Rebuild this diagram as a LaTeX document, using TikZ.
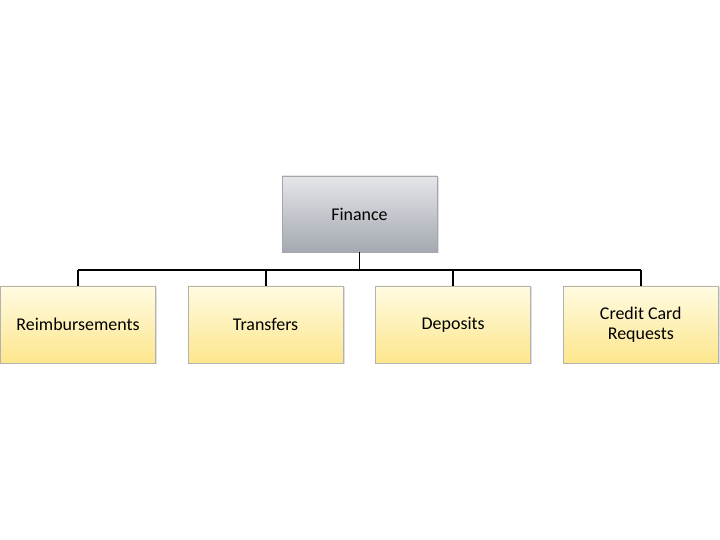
\documentclass[tikz,border=0pt]{standalone}
\usepackage{fontspec}
\setmainfont{Carlito}
\usetikzlibrary{positioning,shadows}
\definecolor{grayTop}{HTML}{E4E6EA}
\definecolor{grayBot}{HTML}{A4A8B0}
\definecolor{yelTop}{HTML}{FFFBE2}
\definecolor{yelBot}{HTML}{FDE68C}
\begin{document}
\begin{tikzpicture}[x=1bp,y=1bp]
    \tikzset{every node/.style={font=\fontsize{18}{20}\selectfont},
      headbox/.style={draw=gray!70,line width=0.6pt,top color=grayTop,bottom color=grayBot,
        minimum width=155bp,minimum height=76bp,inner sep=0pt,drop shadow={opacity=0.25,shadow xshift=1.5bp,shadow yshift=-1.5bp}},
      taskbox/.style={draw=gray!60,line width=0.6pt,top color=yelTop,bottom color=yelBot,
        minimum width=155bp,minimum height=77bp,inner sep=0pt,align=center,drop shadow={opacity=0.25,shadow xshift=1.5bp,shadow yshift=-1.5bp}},
      link/.style={line width=1.8pt}}
    \useasboundingbox (0,0) rectangle (720,540);

    \node[headbox] (fin) at (359.5,326) {Finance};

    \node[taskbox] (reimb) at (78,215.5) {Reimbursements};
    \node[taskbox,right=32bp of reimb] (trans) {Transfers};
    \node[taskbox,right=32bp of trans] (depos) {Deposits};
    \node[taskbox,right=32bp of depos] (credit) {Credit Card\\Requests};

    % bus line
    \coordinate (bus) at (360,270);
    \draw[link] (fin.south) -- (fin.south |- bus);
    \draw[link] (reimb.north |- bus) -- (credit.north |- bus);
    \foreach \k in {reimb,trans,depos,credit}
      \draw[link] (\k.north |- bus) -- (\k.north);
\end{tikzpicture}
\end{document}
